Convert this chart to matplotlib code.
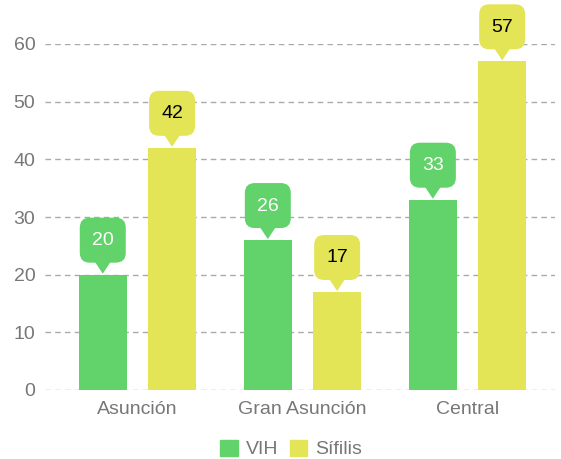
import numpy as np
import matplotlib.pyplot as plt
from matplotlib.patches import FancyBboxPatch, Polygon, Patch
from matplotlib.transforms import Affine2D, ScaledTranslation

plt.rcParams['font.family'] = ['Liberation Sans', 'DejaVu Sans']

categories = ['Asunción', 'Gran Asunción', 'Central']
vih = [20, 26, 33]
sifilis = [42, 17, 57]
series_names = ['VIH', 'Sífilis']

green = '#62d36a'
yellow = '#e4e457'
grey = '#777777'

fig = plt.figure(figsize=(5.61, 4.59), dpi=100)
ax = fig.add_axes([45 / 561, 69 / 459, 510 / 561, 346 / 459])

x = np.arange(len(categories))
w = 0.29
off = 0.21
ax.bar(x - off, vih, w, color=green, zorder=2)
ax.bar(x + off, sifilis, w, color=yellow, zorder=2)

ax.set_xlim(-0.56, 2.53)
ax.set_ylim(0, 60)
ax.set_yticks(range(0, 61, 10))
ax.set_xticks(x)
ax.set_xticklabels(categories)
ax.grid(axis='y', color='#aaaaaa', linestyle=(0, (4, 3)), linewidth=1, zorder=0)
for s in ax.spines.values():
    s.set_visible(False)
ax.tick_params(length=0, labelsize=14, labelcolor=grey)
ax.tick_params(axis='x', pad=8)
ax.tick_params(axis='y', pad=7)


def callout(xc, v, color, tcolor):
    # rounded label box with a small pointer down to the bar top
    tr = Affine2D() + ScaledTranslation(xc, v, ax.transData)
    tri = Polygon([(-10, 16), (10, 16), (0, 1)], closed=True, fc=color, ec='none',
                  transform=tr, clip_on=False, zorder=3)
    box = FancyBboxPatch((-23, 12), 46, 45, boxstyle='round,pad=0,rounding_size=10',
                         fc=color, ec='none', transform=tr, clip_on=False, zorder=3)
    ax.add_patch(tri)
    ax.add_patch(box)
    ax.text(0, 34, str(v), transform=tr, ha='center', va='center', fontsize=14,
            color=tcolor, zorder=4, clip_on=False)


for i in range(len(categories)):
    callout(x[i] - off, vih[i], green, 'white')
    callout(x[i] + off, sifilis[i], yellow, 'black')

handles = [Patch(color=green, label=series_names[0]), Patch(color=yellow, label=series_names[1])]
leg = fig.legend(handles=handles, loc='center', ncol=2, frameon=False,
                 bbox_to_anchor=(291 / 561, 1 - 449 / 459), fontsize=14, handlelength=0.9,
                 handleheight=0.9, handletextpad=0.4, columnspacing=0.6)
for t in leg.get_texts():
    t.set_color(grey)

fig.savefig('out.png', dpi=100)
